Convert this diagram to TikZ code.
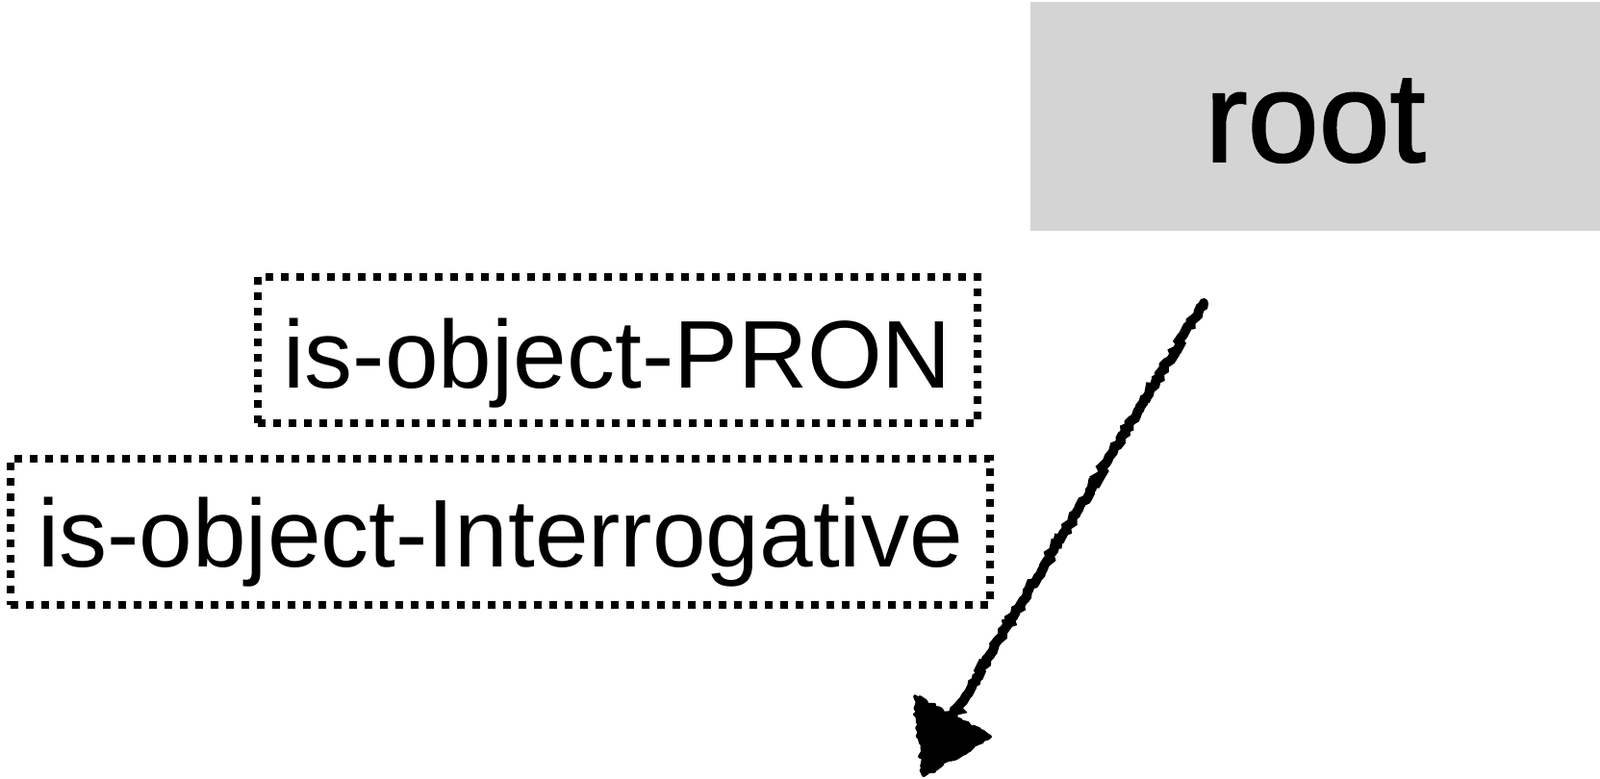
\documentclass[tikz,border=0pt]{standalone}
\usepackage{fontspec}
\setmainfont{Liberation Sans}
\newfontfamily\rootfont[FakeBold=1.4]{Liberation Sans}
\usetikzlibrary{positioning}
\usetikzlibrary{decorations.pathmorphing}

\definecolor{rootgray}{RGB}{212,212,212}
\tikzset{
  dotbox/.style={draw=black,line width=0.16cm,dash pattern=on 0.16cm off 0.16cm,
    inner sep=0pt,minimum height=3.04cm,text depth=0pt,
    font=\fontsize{56.9}{60}\selectfont},
  sketchy/.style={decorate,decoration={random steps,segment length=2pt,amplitude=1.2pt}}
}

\begin{document}
\begin{tikzpicture}
\useasboundingbox (0,0) rectangle (33.26,16.18);
\node[fill=rootgray,inner sep=0pt,minimum width=11.84cm,minimum height=4.76cm,
  text height=1.88cm,text depth=0pt,font=\rootfont\fontsize{75.7}{80}\selectfont] (root) at (27.34,13.76) {root};
\node[dotbox,minimum width=14.96cm,text height=1.56cm] (pron) at (12.84,8.90) {is-object-PRON};
\node[dotbox,minimum width=20.36cm,text height=1.44cm] (interrog) at (10.40,5.12) {is-object-Interrogative};

% hand drawn arrow
\coordinate (tail) at (25.02,9.88);
\coordinate (shaftend) at (19.80,1.28);
\coordinate (tip) at (19.20,0.06);
\coordinate (wingA) at (19.02,1.70);
\coordinate (wingB) at (20.58,0.86);
\draw[sketchy,line width=0.2cm,line cap=round] (tail) -- (shaftend);
\filldraw[sketchy,line width=0.08cm,line join=round] (tip) -- (wingA) -- (wingB) -- cycle;
\end{tikzpicture}
\end{document}
